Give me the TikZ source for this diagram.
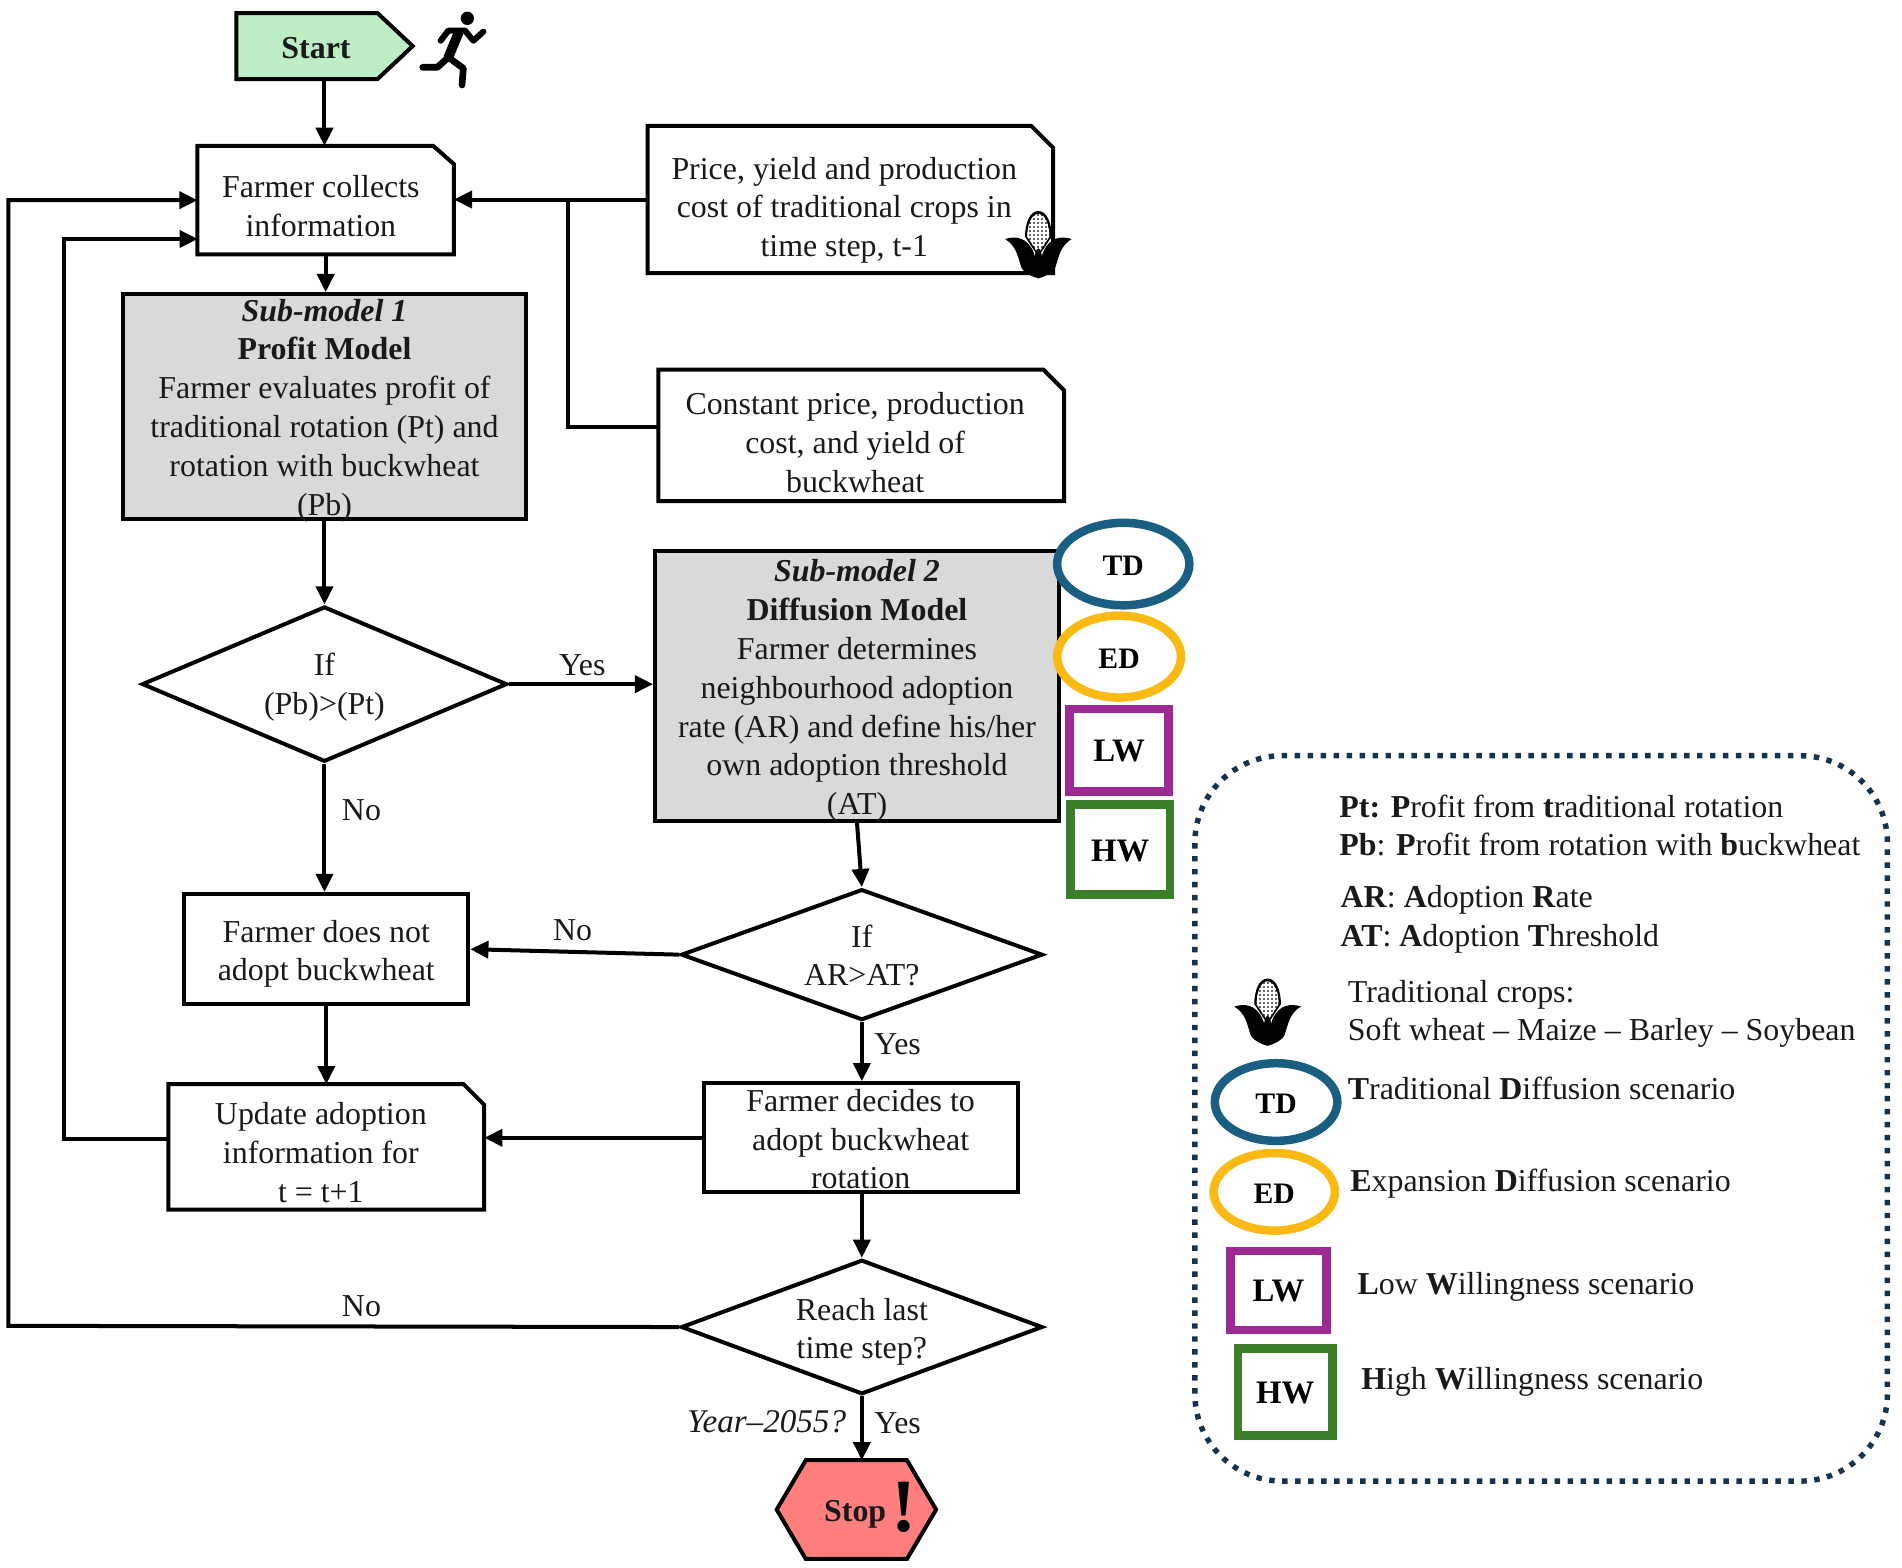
\documentclass[tikz,border=0pt]{standalone}
\usepackage{fontspec}
\setmainfont{Liberation Serif}
\usetikzlibrary{arrows.meta,shapes.geometric,calc,backgrounds}
\definecolor{cblue}{HTML}{1A5E82}
\definecolor{cyel}{HTML}{FBB914}
\definecolor{cpur}{HTML}{9C2A92}
\definecolor{cgrn}{HTML}{3C7D2A}
\definecolor{cnavy}{HTML}{17324D}
\definecolor{cstart}{HTML}{BDEDC4}
\definecolor{cstop}{HTML}{FF7F7F}
\newcommand{\dn}[1]{\rule{0pt}{#1pt}}
\newcommand{\sft}[1]{\hbox to #1pt{}}
\newcommand{\tb}[2]{\raisebox{#1pt}[30pt][30pt]{\begin{tabular}{@{}c@{}}#2\end{tabular}}}
\tikzset{
  ln/.style={line width=3.3pt,black},
  arr/.style={ln,-{Triangle[length=15pt,width=14pt]}},
  txt/.style={font=\fontsize{26.3}{32}\selectfont,text=black!90,align=center,inner sep=0pt},
  box/.style={txt,draw=black,line width=3.3pt,rectangle},
  free/.style={txt,rectangle},
  grey/.style={box,fill=black!15},
  dia/.style={txt,draw=black,line width=3.3pt,shape=diamond,shape aspect=2.3},
  lab/.style={txt},
  leg/.style={txt,anchor=west,align=left},
  ell/.style={font=\fontsize{24.5}{30}\selectfont\bfseries,shape=ellipse,inner sep=0pt,line width=7pt},
  sq/.style={font=\fontsize{27}{30}\selectfont\bfseries,rectangle,inner sep=0pt,line width=7pt},
  corn/.pic={
    \begin{scope}[x=0.2748pt,y=-0.2748pt]
      \fill[black] (0,-97) .. controls (-26,-97) and (-40,-60) .. (-40,-20) -- (0,40) -- (40,-20) .. controls (40,-60) and (26,-97) .. (0,-97) -- cycle;
      \begin{scope}
        \clip (0,-88) .. controls (-20,-88) and (-33,-55) .. (-33,-20) -- (0,30) -- (33,-20) .. controls (33,-55) and (20,-88) .. (0,-88) -- cycle;
        \fill[black!60] (-45,-100) rectangle (45,45);
        \foreach \g in {-30,-18,...,30} \draw[white,line width=1.6pt] (\g,-100) -- (\g,45);
        \foreach \g in {-90,-78,...,40} \draw[white,line width=1.6pt] (-45,\g) -- (45,\g);
      \end{scope}
      \fill[black] (-100,-13) .. controls (-70,-22) and (-35,-20) .. (-15,25) .. controls (-8,42) and (-5,60) .. (0,105) .. controls (-20,100) and (-40,90) .. (-50,75) .. controls (-62,40) and (-65,8) .. (-100,-13) -- cycle;
      \fill[black] (100,-13) .. controls (70,-22) and (35,-20) .. (15,25) .. controls (8,42) and (5,60) .. (0,105) .. controls (20,100) and (40,90) .. (50,75) .. controls (62,40) and (65,8) .. (100,-13) -- cycle;
      \fill[black] (0,60) ellipse (12 and 45);
    \end{scope}
  }
}
\begin{document}
\begin{tikzpicture}[x=1pt,y=-1pt]
\useasboundingbox (0,0) rectangle (1568,1292.6);

% process nodes
\node[free,minimum width=145pt,minimum height=54pt,font=\fontsize{26.3}{32}\selectfont\bfseries] (start) at (267.5,38) {\dn{20}Start\sft{14}};
\node[free,minimum width=211pt,minimum height=89pt] (collect) at (268.5,165) {\dn{28}Farmer collects\sft{8}\\information\sft{8}};
\node[free,minimum width=334pt,minimum height=121pt] (price) at (701,164.5) {\dn{36}Price, yield and production\sft{10}\\cost of traditional crops in\sft{10}\\time step, t-1\sft{10}};
\node[free,minimum width=334pt,minimum height=108pt] (const) at (710,359) {\dn{30}Constant price, production\sft{10}\\cost, and yield of\sft{10}\\buckwheat\sft{10}};
\node[grey,minimum width=333pt,minimum height=185pt] (sub1) at (267.5,335) {\tb{-9.5}{\textbf{\textit{Sub-model 1}}\\\textbf{Profit Model}\\Farmer evaluates profit of\\traditional rotation (Pt) and\\rotation with buckwheat\\(Pb)}};
\node[dia,minimum width=301pt,minimum height=128pt] (ifp) at (267.5,564) {\dn{24}If\\(Pb)>(Pt)};
\node[grey,minimum width=333pt,minimum height=222pt] (sub2) at (706.5,565.5) {\tb{-10}{\textbf{\textit{Sub-model 2}}\\\textbf{Diffusion Model}\\Farmer determines\\neighbourhood adoption\\rate (AR) and define his/her\\own adoption threshold\\(AT)}};
\node[dia,minimum width=298pt,minimum height=108pt] (ifa) at (710.5,787) {\dn{20}If\\AR>AT?};
\node[box,minimum width=234pt,minimum height=91pt] (notadopt) at (269,782.5) {\dn{26}Farmer does not\\adopt buckwheat};
\node[free,minimum width=260pt,minimum height=103pt] (update) at (269,945.5) {\dn{28}Update adoption\sft{9}\\information for\sft{9}\\t = t+1\sft{9}};
\node[box,minimum width=259pt,minimum height=90pt] (decide) at (709.5,938) {\tb{-10}{Farmer decides to\\adopt buckwheat\\rotation}};
\node[dia,minimum width=298pt,minimum height=108pt] (reach) at (710.5,1094) {\dn{26}Reach last\\time step?};
\node[free,minimum width=131pt,minimum height=81pt,font=\fontsize{26.3}{32}\selectfont\bfseries] (stop) at (706,1244.5) {\dn{26}Stop\sft{2}};
\node[font=\fontsize{62}{62}\selectfont\bfseries,inner sep=0pt] (bang) at (745,1243) {!};

% outlines
\begin{scope}[on background layer]
  \draw[ln,fill=cstart] (start.north west) -- ($(start.north east)+(-29,0)$) -- (start.east) -- ($(start.south east)+(-29,0)$) -- (start.south west) -- cycle;
  \draw[ln,fill=cstop] ($(stop.north west)+(24,0)$) -- ($(stop.north east)+(-24,0)$) -- (stop.east) -- ($(stop.south east)+(-24,0)$) -- ($(stop.south west)+(24,0)$) -- (stop.west) -- cycle;
\end{scope}
\foreach \n/\dx/\dy in {collect/17/15,price/18/18,const/17/17,update/17/17}{
  \draw[ln,line join=miter] (\n.north west) -- ($(\n.north east)+(-\dx,0)$) -- ($(\n.north east)+(0,\dy)$) -- (\n.south east) -- (\n.south west) -- cycle;
}

% scenario markers
\node[ell,draw=cblue,minimum width=109pt,minimum height=68pt] (td) at (926,465) {\dn{19}TD};
\node[ell,draw=cyel,minimum width=102pt,minimum height=67.5pt] (ed) at (922.6,541.3) {\dn{19}ED};
\node[sq,draw=cpur,minimum width=81.7pt,minimum height=68pt] (lw) at (922.6,618.4) {\dn{19}LW};
\node[sq,draw=cgrn,minimum width=81.7pt,minimum height=74.4pt] (hw) at (923.5,700.3) {\dn{20}HW};

% legend
\draw[cnavy,line width=4.5pt,dash pattern=on 4.5pt off 6.2pt,rounded corners=72pt] (985,623) rectangle (1556,1221);
\node[leg] (l1) at (1104,665) {\textbf{Pt:} \textbf{P}rofit from \textbf{t}raditional rotation};
\node[leg] (l2) at (1104,696) {\textbf{Pb}: \textbf{P}rofit from rotation with \textbf{b}uckwheat};
\node[leg] (l3) at (1105,742) {\textbf{AR}: \textbf{A}doption \textbf{R}ate};
\node[leg] (l4) at (1105,774) {\textbf{AT}: \textbf{A}doption \textbf{T}hreshold};
\node[leg] (l5) at (1111,820) {Traditional crops:};
\node[leg] (l6) at (1111,851) {Soft wheat -- Maize -- Barley -- Soybean};
\node[ell,draw=cblue,minimum width=101pt,minimum height=64pt] (td2) at (1052,908.5) {\dn{19}TD};
\node[leg] (l7) at (1111,897) {\textbf{T}raditional \textbf{D}iffusion scenario};
\node[ell,draw=cyel,minimum width=100pt,minimum height=64pt] (ed2) at (1050.5,982.5) {\dn{19}ED};
\node[leg] (l8) at (1113,976) {\textbf{E}xpansion \textbf{D}iffusion scenario};
\node[sq,draw=cpur,minimum width=79pt,minimum height=65pt] (lw2) at (1054,1064) {\dn{19}LW};
\node[leg] (l9) at (1119,1061) {\textbf{L}ow \textbf{W}illingness scenario};
\node[sq,draw=cgrn,minimum width=78pt,minimum height=72pt] (hw2) at (1059.5,1147.5) {\dn{20}HW};
\node[leg] (l10) at (1122,1139) {\textbf{H}igh \textbf{W}illingness scenario};

% connectors
\coordinate (j) at (468,165);
\coordinate (cw) at (543,352);
\coordinate (loopa) at (53,939);
\coordinate (loopb) at (53,197);
\coordinate (loopc) at (7,1093);
\coordinate (loopd) at (7,165);
\coordinate (entryb) at (163,197);
\draw[arr] (start.south) -- (start.south |- collect.north);
\draw[arr] (collect.south) -- (collect.south |- sub1.north);
\draw[arr] (price.west) -- (price.west -| collect.east);
\draw[ln] (cw) -- (cw -| j) -- (j);
\draw[arr] (sub1.south) -- (ifp.north);
\draw[arr] (ifp.east) -- (ifp.east -| sub2.west);
\draw[arr] (ifp.south) -- (ifp.south |- notadopt.north);
\draw[arr] (sub2.south) -- (ifa.north);
\draw[arr] (ifa.west) -- (notadopt.east);
\draw[arr] (ifa.south) -- (ifa.south |- decide.north);
\draw[arr] (notadopt.south) -- (update.north);
\draw[arr] (decide.west) -- (decide.west -| update.east);
\draw[arr] (update.west |- loopa) -- (loopa) -- (loopb) -- (entryb);
\draw[arr] (decide.south -| reach.north) -- (reach.north);
\draw[arr] (reach.west) -- (loopc) -- (loopd) -- (collect.west);
\draw[arr] (reach.south) -- (reach.south |- stop.north);

% labels
\node[lab] (yes1) at (480,548) {Yes};
\node[lab] (no1) at (298,668) {No};
\node[lab] (no2) at (472,767) {No};
\node[lab] (yes2) at (740,861) {Yes};
\node[lab] (no3) at (298,1077) {No};
\node[lab] (yes3) at (740,1173) {Yes};
\node[lab,font=\fontsize{27.3}{32}\selectfont] (year) at (632,1172) {\textit{Year--2055?}};

% runner icon
\begin{scope}[shift={(123.67,0)},x=0.2748pt,y=-0.2748pt,line cap=round,line join=round]
  \fill (952,55) circle (20);
  \draw[line width=8pt] (925,100) -- (895,172);
  \draw[line width=5pt] (872,122) -- (895,92) -- (945,92) -- (970,122) -- (1000,95);
  \draw[line width=5.5pt] (895,172) -- (940,205) -- (936,255);
  \draw[line width=5.5pt] (895,172) -- (862,202) -- (818,202);
\end{scope}

% corn icons
\pic (corn1) at (856,200.6) {corn};
\pic (corn2) at (1045,833.3) {corn};
\end{tikzpicture}
\end{document}
